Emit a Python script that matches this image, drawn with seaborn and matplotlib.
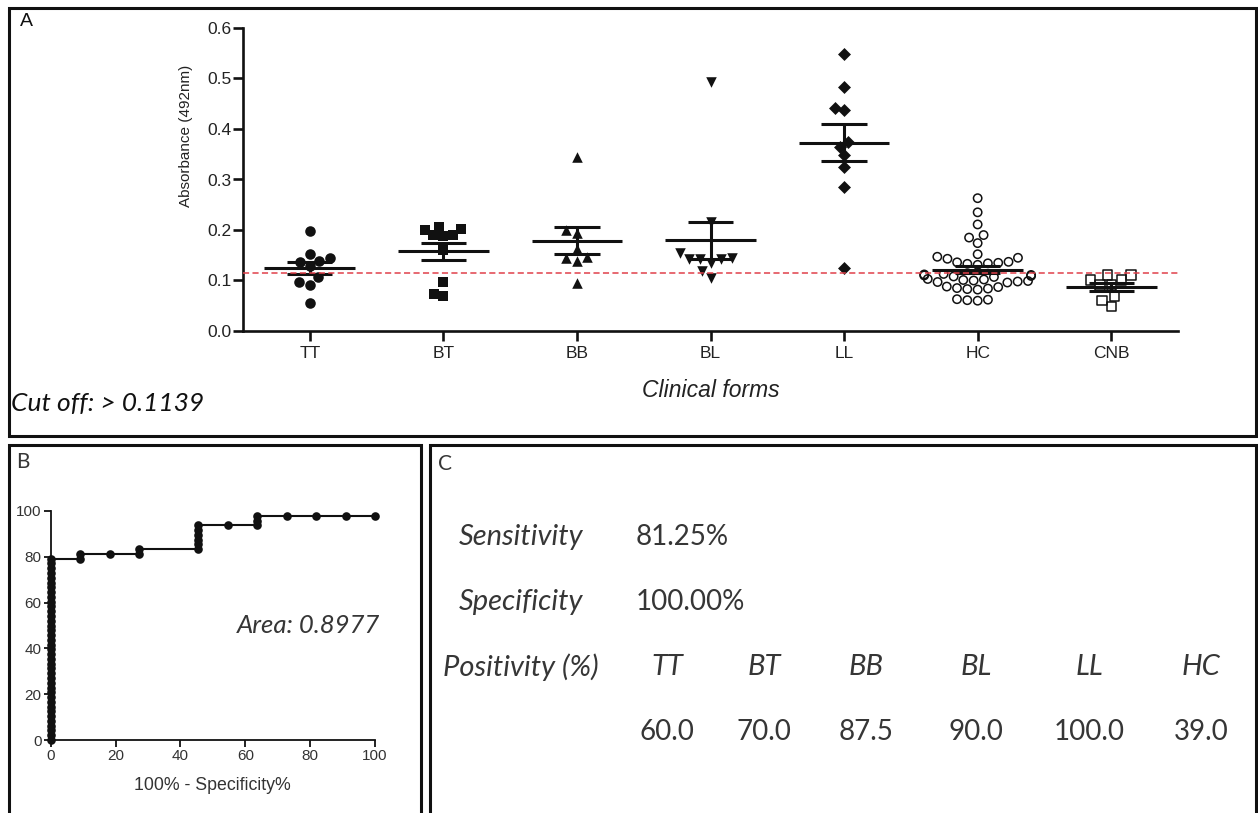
import numpy as np
import pandas as pd
import matplotlib
matplotlib.use("Agg")
import matplotlib.pyplot as plt
from matplotlib.patches import Rectangle
from matplotlib.ticker import FormatStrFormatter
import seaborn as sns

# ---- Absorbance (492 nm) by clinical form ----
forms = ["TT", "BT", "BB", "BL", "LL", "HC", "CNB"]
tt_values = [0.198, 0.152, 0.145, 0.139, 0.136, 0.128, 0.106, 0.098, 0.091, 0.056]
bt_values = [0.200, 0.190, 0.190, 0.201, 0.188, 0.205, 0.160, 0.098, 0.070, 0.073]
bb_values = [0.345, 0.195, 0.200, 0.162, 0.144, 0.139, 0.147, 0.096]
bl_values = [0.494, 0.216, 0.154, 0.142, 0.142, 0.135, 0.142, 0.144, 0.119, 0.105]
ll_values = [0.549, 0.483, 0.438, 0.442, 0.374, 0.364, 0.348, 0.324, 0.286, 0.124]
hc_values = [0.263, 0.235, 0.211, 0.190, 0.185, 0.174, 0.152, 0.147, 0.145, 0.143,
             0.137, 0.136, 0.135, 0.134, 0.133, 0.131, 0.113, 0.112, 0.111, 0.110,
             0.109, 0.108, 0.107, 0.103, 0.102, 0.101, 0.100, 0.099, 0.098, 0.097,
             0.096, 0.088, 0.087, 0.085, 0.084, 0.083, 0.082, 0.063, 0.062, 0.061,
             0.060]
cnb_values = [0.111, 0.101, 0.091, 0.091, 0.101, 0.111, 0.069, 0.049, 0.061]
cutoff = 0.1139

# ---- ROC curve ----
roc_fpr = [0.00] * 39 + [9.09, 9.09, 18.18, 27.27, 27.27, 45.45, 45.45, 45.45,
                         45.45, 45.45, 45.45, 54.55, 63.64, 63.64, 63.64, 72.73,
                         81.82, 90.91, 100.00]
roc_tpr = [0.00, 2.08, 4.17, 6.25, 8.33, 10.42, 12.50, 14.58, 16.67, 18.75,
           20.83, 22.92, 25.00, 27.08, 29.17, 31.25, 33.33, 35.42, 37.50, 39.58,
           41.67, 43.75, 45.83, 47.92, 50.00, 52.08, 54.17, 56.25, 58.33, 60.42,
           62.50, 64.58, 66.67, 68.75, 70.83, 72.92, 75.00, 77.08, 79.17,
           79.17, 81.25, 81.25, 81.25, 83.33, 83.33, 85.42, 87.50, 89.58, 91.67,
           93.75, 93.75, 93.75, 95.83, 97.92, 97.92, 97.92, 97.92, 97.92]
auc = 0.8977

# ---- Summary table ----
sensitivity = 81.25
specificity = 100.00
positivity_forms = ["TT", "BT", "BB", "BL", "LL", "HC"]
positivity = [60.0, 70.0, 87.5, 90.0, 100.0, 39.0]

sns.set_theme(style="ticks")
plt.rcParams["font.family"] = ["Liberation Sans", "DejaVu Sans"]

THIN = dict(family="Lato")
TEXT_GREY = "#363636"

W, H = 1258, 813
fig = plt.figure(figsize=(W / 100, H / 100), dpi=100)
fig.patch.set_facecolor("white")


def fx(x):
    return x / W


def fy(y):
    return 1 - y / H


INK = "#111111"

# panel frames
for x0, y0, x1, y1 in [(9, 8, 1256, 436), (9, 445, 421, 830), (430, 445, 1256, 830)]:
    fig.add_artist(Rectangle((fx(x0), fy(y1)), fx(x1) - fx(x0), fy(y0) - fy(y1),
                             transform=fig.transFigure, fill=False,
                             edgecolor=INK, linewidth=2.2, clip_on=False))

# ================= Panel A =================
groups = dict(zip(forms, [tt_values, bt_values, bb_values, bl_values,
                          ll_values, hc_values, cnb_values]))
df = pd.DataFrame([(f, v) for f in forms for v in groups[f]],
                  columns=["form", "value"])

axA = fig.add_axes([fx(243), fy(331), (1178 - 243) / W, (331 - 28) / H])

styles = {
    "TT": dict(marker="o", size=7.6, filled=True),
    "BT": dict(marker="s", size=6.8, filled=True),
    "BB": dict(marker="^", size=7.6, filled=True),
    "BL": dict(marker="v", size=7.6, filled=True),
    "LL": dict(marker="D", size=6.6, filled=True),
    "HC": dict(marker="o", size=6.0, filled=False),
    "CNB": dict(marker="s", size=6.6, filled=False),
}
for f in forms:
    st = styles[f]
    sub = df[df["form"] == f]
    if st["filled"]:
        sns.swarmplot(data=sub, x="form", y="value", order=forms, ax=axA,
                      marker=st["marker"], size=st["size"], color=INK,
                      linewidth=0, zorder=3)
    else:
        sns.swarmplot(data=sub, x="form", y="value", order=forms, ax=axA,
                      marker=st["marker"], size=st["size"], color=INK,
                      facecolor="none", edgecolor=INK, linewidth=1.1, zorder=3)

# mean +/- SEM
for i, f in enumerate(forms):
    vals = np.asarray(groups[f])
    m = vals.mean()
    se = vals.std(ddof=1) / np.sqrt(len(vals))
    axA.hlines(m, i - 0.34, i + 0.34, color=INK, lw=2.2, zorder=5)
    axA.hlines([m - se, m + se], i - 0.17, i + 0.17, color=INK, lw=2.2, zorder=5)
    axA.vlines(i, m - se, m + se, color=INK, lw=2.2, zorder=5)

axA.axhline(cutoff, color="#e0404a", lw=1.1, ls=(0, (4, 2.2)), zorder=6)

axA.set_xlim(-0.5, 6.5)
axA.set_ylim(0, 0.6)
axA.set_yticks(np.arange(0, 0.61, 0.1))
axA.yaxis.set_major_formatter(FormatStrFormatter("%.1f"))
for s in ["top", "right"]:
    axA.spines[s].set_visible(False)
for s in ["left", "bottom"]:
    axA.spines[s].set_linewidth(1.9)
    axA.spines[s].set_color(INK)
axA.tick_params(axis="both", length=7, width=1.9, color=INK, labelsize=12.5,
                labelcolor="#222222")
axA.tick_params(axis="y", pad=1.5)
axA.tick_params(axis="x", pad=4)
axA.set_ylabel("Absorbance (492nm)", fontsize=11, color="#222222")
axA.yaxis.set_label_coords(-0.054, 0.644)
axA.set_xlabel("Clinical forms", fontsize=16.5, style="italic", color="#222222")
axA.xaxis.set_label_coords(0.5, -0.16)

fig.text(fx(20), fy(22), "A", ha="left", va="center", fontsize=14, color=INK)
fig.text(fx(11), fy(403), "Cut off: > 0.1139", ha="left", va="center",
         fontsize=19, style="italic", color=INK, **THIN)

# ================= Panel B =================
axB = fig.add_axes([fx(50.7), fy(740), (375 - 50.7) / W, (740 - 511) / H])
sns.lineplot(x=roc_fpr, y=roc_tpr, sort=False, estimator=None, ax=axB,
             color=INK, lw=1.5, marker="o", markersize=6.2, markeredgewidth=0,
             clip_on=False, zorder=4)
axB.set_xlim(0, 100)
axB.set_ylim(0, 100)
axB.set_xticks(range(0, 101, 20))
axB.set_yticks(range(0, 101, 20))
for s in ["top", "right"]:
    axB.spines[s].set_visible(False)
for s in ["left", "bottom"]:
    axB.spines[s].set_linewidth(1.3)
    axB.spines[s].set_color(INK)
axB.tick_params(axis="both", length=5, width=1.3, color=INK, labelsize=11,
                labelcolor="#333333", pad=1.5)
axB.set_xlabel("100% - Specificity%", fontsize=12.8, color="#333333")
axB.xaxis.set_label_coords(0.5, -0.16)
axB.text(0.795, 0.50, f"Area: {auc:.4f}", transform=axB.transAxes,
         ha="center", va="center", fontsize=18.5, style="italic",
         color=TEXT_GREY, **THIN)
fig.text(fx(16), fy(462), "B", ha="left", va="center", fontsize=15,
         color=TEXT_GREY, **THIN)

# ================= Panel C =================
fig.text(fx(438), fy(464), "C", ha="left", va="center", fontsize=15,
         color=TEXT_GREY, **THIN)
row_y = [537, 602, 667, 732]
kw_lab = dict(fontsize=21, style="italic", color=TEXT_GREY, va="center", **THIN)
kw_num = dict(fontsize=20, color=TEXT_GREY, va="center", **THIN)
fig.text(fx(521), fy(row_y[0]), "Sensitivity", ha="center", **kw_lab)
fig.text(fx(636), fy(row_y[0]), f"{sensitivity:.2f}%", ha="left", **kw_num)
fig.text(fx(521), fy(row_y[1]), "Specificity", ha="center", **kw_lab)
fig.text(fx(636), fy(row_y[1]), f"{specificity:.2f}%", ha="left", **kw_num)
fig.text(fx(521), fy(row_y[2]), "Positivity (%)", ha="center", **kw_lab)
col_x = [667, 764, 866, 976, 1089, 1201]
for cx, name, val in zip(col_x, positivity_forms, positivity):
    fig.text(fx(cx), fy(row_y[2]), name, ha="center", **kw_lab)
    fig.text(fx(cx), fy(row_y[3]), f"{val:.1f}", ha="center", **kw_num)

fig.savefig("out.png", dpi=100, facecolor="white")
